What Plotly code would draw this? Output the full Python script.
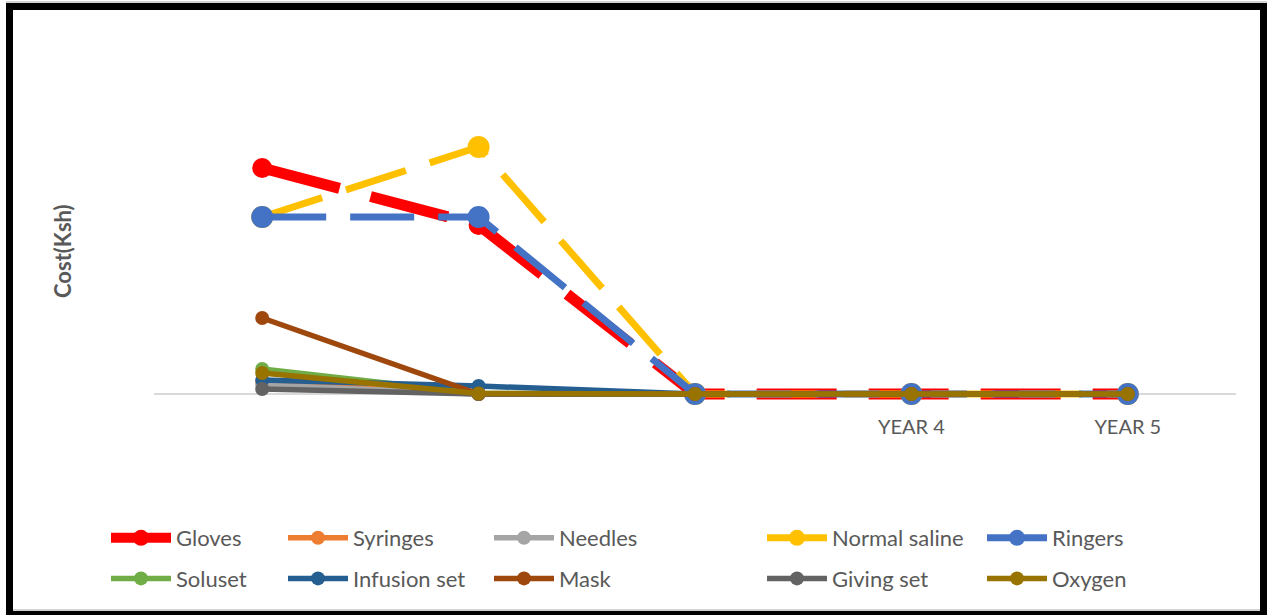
import plotly.graph_objects as go

# Cost per item over five years (Ksh)
years = ["YEAR 1", "YEAR 2", "YEAR 3", "YEAR 4", "YEAR 5"]
year_labels = ["", "", "", "YEAR 4", "YEAR 5"]

gloves = [22600, 16900, 0, 0, 0]
syringes = [1200, 0, 0, 0, 0]
needles = [900, 0, 0, 0, 0]
normal_saline = [17700, 24700, 0, 0, 0]
ringers = [17700, 17700, 0, 0, 0]
soluset = [2500, 50, 0, 0, 0]
infusion_set = [1400, 800, 0, 0, 0]
mask = [7600, 0, 0, 0, 0]
giving_set = [500, 0, 0, 0, 0]
oxygen = [2100, 50, 0, 0, 0]

series = [
    ("Gloves", gloves, "#FF0000", 11, "80px,32px", 20, "legend"),
    ("Syringes", syringes, "#ED7D31", 5.5, "solid", 14, "legend2"),
    ("Needles", needles, "#A5A5A5", 5.5, "solid", 14, "legend3"),
    ("Normal saline", normal_saline, "#FFC000", 7, "63px,25px", 22, "legend4"),
    ("Ringers", ringers, "#4472C4", 7, "64px,24px", 22, "legend5"),
    ("Soluset", soluset, "#70AD47", 5.5, "solid", 14, "legend"),
    ("Infusion set", infusion_set, "#255E91", 5.5, "solid", 14, "legend2"),
    ("Mask", mask, "#9E480E", 5.5, "solid", 14, "legend3"),
    ("Giving set", giving_set, "#636363", 5.5, "solid", 14, "legend4"),
    ("Oxygen", oxygen, "#997300", 5.5, "solid", 14, "legend5"),
]

W, H = 1267, 615
L, R, T, B = 154, 31, 40, 211
PW, PH = W - L - R, H - T - B


def px(x):
    return (x - L) / PW


def py(y):
    return (H - B - y) / PH


TXT = "#595959"
FONT = "Lato"

fig = go.Figure()
for name, vals, color, lw, dash, ms, leg in series:
    fig.add_trace(go.Scatter(
        x=years, y=vals, name=name, mode="lines+markers",
        line=dict(color=color, width=lw, dash=dash),
        marker=dict(color=color, size=ms, symbol="circle"),
        cliponaxis=False, legend=leg, legendgroup=name,
    ))

legend_x = [106, 283, 489, 762, 982]
legend_common = dict(
    orientation="v", yanchor="top", xanchor="left",
    font=dict(family=FONT, size=22, color=TXT),
    bgcolor="rgba(0,0,0,0)", borderwidth=0,
    itemwidth=60, tracegroupgap=9,
)
fig.update_layout(
    legend=dict(x=px(legend_x[0]), y=py(517), **legend_common),
    legend2=dict(x=px(legend_x[1]), y=py(517), **legend_common),
    legend3=dict(x=px(legend_x[2]), y=py(517), **legend_common),
    legend4=dict(x=px(legend_x[3]), y=py(517), **legend_common),
    legend5=dict(x=px(legend_x[4]), y=py(517), **legend_common),
)

fig.update_xaxes(
    type="category", range=[-0.5, 4.5],
    tickmode="array", tickvals=years, ticktext=year_labels,
    showline=False, showgrid=False, zeroline=False, ticks="",
    tickfont=dict(family=FONT, size=20, color=TXT),
    ticklabelstandoff=9,
)
fig.update_yaxes(
    range=[-1000, 35400], showticklabels=False, showgrid=False,
    zeroline=True, zerolinecolor="#D9D9D9", zerolinewidth=2,
    showline=False, ticks="",
)

fig.add_annotation(
    text="<b>Cost(Ksh)</b>", textangle=-90, showarrow=False,
    xref="paper", yref="paper", x=px(63), y=py(251),
    xanchor="center", yanchor="middle",
    font=dict(family=FONT, size=22, color=TXT),
)

# outer frame
fig.add_shape(type="rect", xref="paper", yref="paper",
              x0=px(9.5), x1=px(1263.5), y0=py(614.5), y1=py(6.5),
              line=dict(color="#000000", width=7), layer="above")
fig.add_shape(type="line", xref="paper", yref="paper",
              x0=px(13), x1=px(1260), y0=py(610), y1=py(610),
              line=dict(color="#A6A6A6", width=1))
fig.add_shape(type="line", xref="paper", yref="paper",
              x0=px(6), x1=px(1267), y0=py(2), y1=py(2),
              line=dict(color="#A6A6A6", width=1))

fig.update_layout(
    width=W, height=H,
    margin=dict(l=L, r=R, t=T, b=B, autoexpand=False),
    paper_bgcolor="white", plot_bgcolor="white",
    font=dict(family=FONT, color=TXT),
)

fig.write_html("out.html")
